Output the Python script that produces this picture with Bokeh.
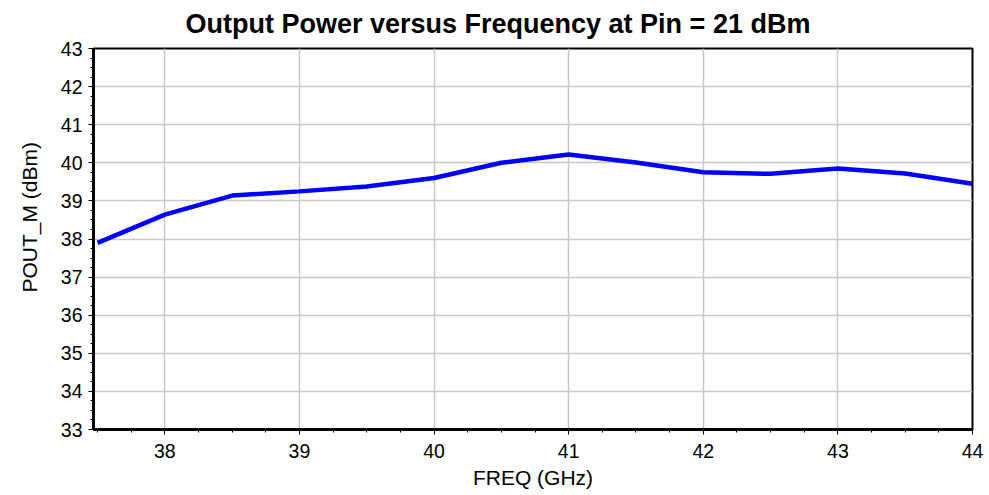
from bokeh.plotting import figure
from bokeh.models import Range1d, FixedTicker, Title
from bokeh.embed import file_html
from bokeh.resources import INLINE

freq_ghz = [37.5, 38.0, 38.5, 39.0, 39.5, 40.0, 40.5, 41.0, 41.5, 42.0, 42.5, 43.0, 43.5, 44.0]
pout_dbm = [37.90, 38.64, 39.14, 39.25, 39.38, 39.60, 40.00, 40.22, 40.01, 39.75, 39.71, 39.85, 39.72, 39.45]
x_ticks = [38, 39, 40, 41, 42, 43, 44]
y_ticks = [33, 34, 35, 36, 37, 38, 39, 40, 41, 42, 43]

FONT = "Liberation Sans"

p = figure(width=989, height=495, output_backend="svg", toolbar_location=None,
           x_range=Range1d(37.47, 44.0), y_range=Range1d(33, 43),
           min_border_left=93, min_border_right=17, min_border_top=48, min_border_bottom=66)
p.title = None
t = Title(text="Output Power versus Frequency at Pin = 21 dBm", align="left",
          vertical_align="top",
          text_font=FONT, text_font_size="27px", text_font_style="bold",
          text_color="black", offset=92, standoff=15)
p.add_layout(t, "above")

ylab = Title(text="POUT_M (dBm)", align="left", vertical_align="top",
             text_font=FONT, text_font_size="21px",
             text_font_style="normal", text_color="black", offset=137, standoff=30)
p.add_layout(ylab, "left")

p.line(freq_ghz, pout_dbm, line_color="#0000ff", line_width=4.5)

for ax, ticks in ((p.xaxis[0], x_ticks), (p.yaxis[0], y_ticks)):
    ax.ticker = FixedTicker(ticks=ticks,
                            minor_ticks=[v / 4 for v in range(int(min(ticks) * 4) - 4, int(max(ticks) * 4) + 1)])
    ax.major_label_text_font = FONT
    ax.major_label_text_font_size = "19.5px"
    ax.major_label_text_color = "black"
    ax.axis_label_text_font = FONT
    ax.axis_label_text_font_size = "21px"
    ax.axis_label_text_font_style = "normal"
    ax.axis_label_text_color = "black"
    ax.axis_line_color = "black"
    ax.axis_line_width = 3
    ax.major_tick_line_color = "black"
    ax.minor_tick_line_color = "black"
    ax.major_tick_out = 5
    ax.major_tick_in = 0
    ax.minor_tick_out = 3
    ax.minor_tick_in = 0

p.xaxis.axis_label = "FREQ (GHz)"
p.xaxis.major_label_standoff = 9
p.yaxis.major_label_standoff = 6
p.xaxis.axis_label_standoff = 5

p.xgrid.ticker = FixedTicker(ticks=x_ticks)
p.ygrid.ticker = FixedTicker(ticks=y_ticks)
p.grid.grid_line_color = "#c8c8c8"
p.grid.grid_line_width = 1.5

p.outline_line_color = "black"
p.outline_line_width = 2
p.outline_line_alpha = 1
p.background_fill_color = "white"
p.border_fill_color = "white"

open("out.html", "w").write(file_html(p, INLINE))
